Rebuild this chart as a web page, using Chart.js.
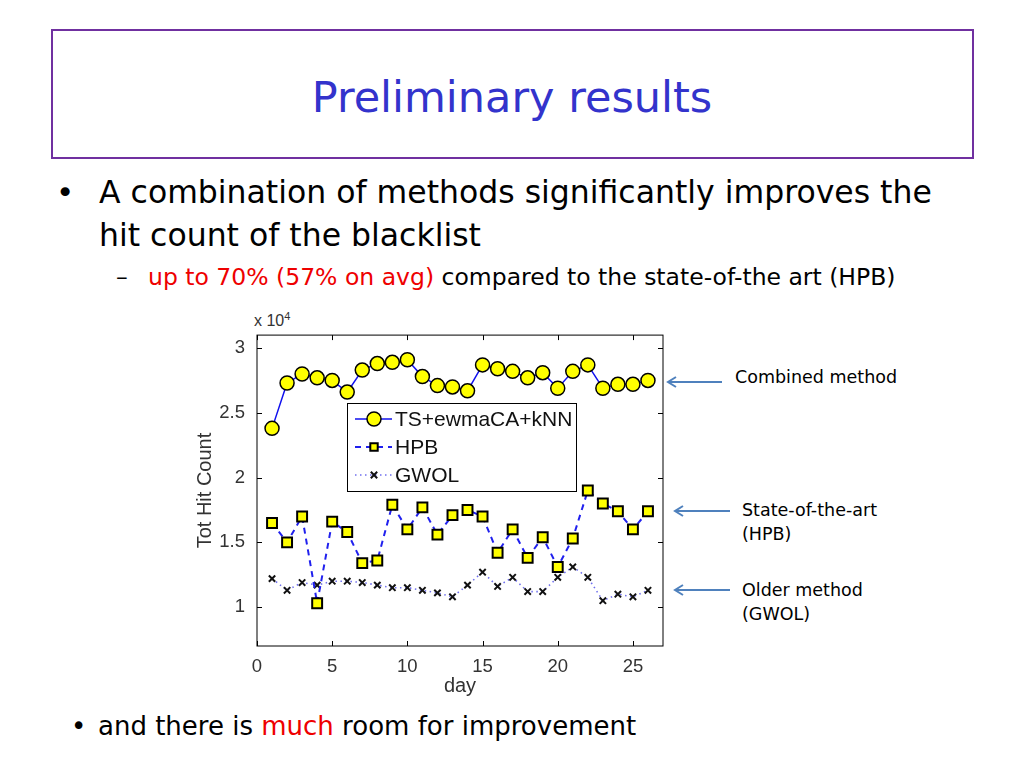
<!DOCTYPE html>
<html>
<head>
<meta charset="utf-8">
<script src="https://cdn.jsdelivr.net/npm/chart.js@4.4.0/dist/chart.umd.min.js"></script>
<style>
    body { margin: 0; background: #fff; }
    #slide { position: relative; width: 1024px; height: 768px; overflow: hidden; font-family: "Comic Sans MS", "DejaVu Sans", sans-serif; }
    .abs { position: absolute; white-space: nowrap; }
    #titleBox { left: 51px; top: 29px; width: 919px; height: 126px; border: 2px solid #7030a0; }
    #title { left: 0; width: 1024px; top: 68px; text-align: center; font-size: 43px; color: #3333cc; line-height: 58px; }
    .red { color: #ee0000; }
    #chartWrap { position: absolute; left: 180px; top: 320px; width: 495px; height: 380px; }
    .note { font-size: 17.5px; color: #000; line-height: 24px; }
</style>
</head>
<body>
<div id="slide">
    <div id="titleBox" class="abs"></div>
    <div id="title" class="abs">Preliminary results</div>

    <div class="abs" style="left:56px; top:171px; font-size:31px; line-height:43px;">•</div>
    <div class="abs" style="left:99px; top:171px; font-size:31.5px; line-height:43px;">A combination of methods significantly improves the<br>hit count of the blacklist</div>
    <div class="abs" style="left:116px; top:261px; font-size:23.5px; line-height:32px;">–</div>
    <div class="abs" style="left:148px; top:261px; font-size:23.5px; line-height:32px;"><span class="red">up to 70% (57% on avg)</span> compared to the state-of-the art (HPB)</div>

    <div class="abs" style="left:71px; top:709px; font-size:26px; line-height:34px;">•</div>
    <div class="abs" style="left:98px; top:709px; font-size:26px; line-height:34px;">and there is <span class="red">much</span> room for improvement</div>

    <div class="abs" style="left:254px; top:310px; font-size:16px; color:#333; font-family:'Liberation Sans', Arial, sans-serif;">x 10<sup style="font-size:11px;">4</sup></div>

    <svg class="abs" style="left:0; top:0;" width="1024" height="768">
        <g stroke="#4f81bd" stroke-width="2" fill="none">
            <line x1="722" y1="382" x2="668" y2="382"/>
            <polyline points="676,377 668,382 676,387"/>
            <line x1="730" y1="511" x2="675" y2="511"/>
            <polyline points="683,506 675,511 683,516"/>
            <line x1="730" y1="590" x2="675" y2="590"/>
            <polyline points="683,585 675,590 683,595"/>
        </g>
    </svg>
    <div class="abs note" style="left:735px; top:365px;">Combined method</div>
    <div class="abs note" style="left:742px; top:498px;">State-of-the-art<br>(HPB)</div>
    <div class="abs note" style="left:742px; top:578px;">Older method<br>(GWOL)</div>

    <div id="chartWrap"><canvas id="hitChart"></canvas></div>
</div>

<script>
    // 데이터
    const days = [1, 2, 3, 4, 5, 6, 7, 8, 9, 10, 11, 12, 13, 14, 15, 16, 17, 18, 19, 20, 21, 22, 23, 24, 25, 26];
    const combined = [2.38, 2.73, 2.80, 2.77, 2.75, 2.66, 2.83, 2.88, 2.89, 2.91, 2.78, 2.71, 2.70, 2.67, 2.87, 2.84, 2.82, 2.77, 2.81, 2.69, 2.82, 2.87, 2.69, 2.72, 2.72, 2.75];
    const hpb = [1.65, 1.50, 1.70, 1.03, 1.66, 1.58, 1.34, 1.36, 1.79, 1.60, 1.77, 1.56, 1.71, 1.75, 1.70, 1.42, 1.60, 1.38, 1.54, 1.31, 1.53, 1.90, 1.80, 1.74, 1.60, 1.74];
    const gwol = [1.22, 1.13, 1.19, 1.17, 1.20, 1.20, 1.19, 1.17, 1.15, 1.15, 1.13, 1.11, 1.08, 1.17, 1.27, 1.16, 1.23, 1.12, 1.12, 1.23, 1.31, 1.23, 1.05, 1.10, 1.08, 1.13];
    const xTicks = [0, 5, 10, 15, 20, 25];
    const yTicks = [1, 1.5, 2, 2.5, 3];
    const seriesNames = ['TS+ewmaCA+kNN', 'HPB', 'GWOL'];

    const toPoints = vals => vals.map((v, i) => ({ x: days[i], y: v }));
    const tickFont = { family: "'Liberation Sans', Arial, sans-serif", size: 18.5 };
    const titleFont = { family: "'Liberation Sans', Arial, sans-serif", size: 20 };

    // MATLAB 스타일 박스 + 안쪽 눈금
    const matlabAxes = {
        id: 'matlabAxes',
        afterDatasetsDraw(chart) {
            const { ctx, chartArea: a, scales } = chart;
            ctx.save();
            ctx.strokeStyle = '#000';
            ctx.lineWidth = 1;
            ctx.strokeRect(a.left, a.top, a.right - a.left, a.bottom - a.top);
            ctx.beginPath();
            xTicks.forEach(t => {
                const px = Math.round(scales.x.getPixelForValue(t)) + 0.5;
                ctx.moveTo(px, a.bottom); ctx.lineTo(px, a.bottom - 5);
                ctx.moveTo(px, a.top); ctx.lineTo(px, a.top + 5);
            });
            yTicks.forEach(t => {
                const py = Math.round(scales.y.getPixelForValue(t)) + 0.5;
                ctx.moveTo(a.left, py); ctx.lineTo(a.left + 5, py);
                ctx.moveTo(a.right, py); ctx.lineTo(a.right - 5, py);
            });
            ctx.stroke();
            ctx.restore();
        }
    };

    function drawMarker(ctx, ds, x, y) {
        ctx.fillStyle = ds.pointBackgroundColor;
        ctx.strokeStyle = ds.pointBorderColor;
        ctx.lineWidth = ds.pointBorderWidth;
        Chart.helpers.drawPoint(ctx, {
            pointStyle: ds.pointStyle,
            radius: ds.pointStyle === 'rect' ? ds.pointRadius * 0.75 : ds.pointRadius,
            borderWidth: ds.pointBorderWidth
        }, x, y);
    }

    // 차트 안쪽 범례
    const innerLegend = {
        id: 'innerLegend',
        afterDraw(chart) {
            const { ctx } = chart;
            const box = { x: 167, y: 83, w: 229, h: 88 };
            ctx.save();
            ctx.fillStyle = '#fff';
            ctx.fillRect(box.x, box.y, box.w, box.h);
            ctx.strokeStyle = '#000';
            ctx.lineWidth = 1;
            ctx.strokeRect(box.x + 0.5, box.y + 0.5, box.w, box.h);
            chart.data.datasets.forEach((ds, i) => {
                const cy = box.y + 16 + i * 28;
                ctx.strokeStyle = ds.borderColor;
                ctx.lineWidth = ds.borderWidth;
                ctx.setLineDash(ds.borderDash || []);
                ctx.beginPath();
                ctx.moveTo(box.x + 8, cy);
                ctx.lineTo(box.x + 45, cy);
                ctx.stroke();
                ctx.setLineDash([]);
                drawMarker(ctx, ds, box.x + 27, cy);
                ctx.fillStyle = '#111';
                ctx.font = "21px 'Liberation Sans', Arial, sans-serif";
                ctx.textBaseline = 'middle';
                ctx.fillText(ds.label, box.x + 48, cy + 1);
            });
            ctx.restore();
        }
    };

    const ctx = document.getElementById('hitChart').getContext('2d');
    const hitChart = new Chart(ctx, {
        type: 'line',
        data: {
            datasets: [{
                label: seriesNames[0],
                data: toPoints(combined),
                borderColor: '#1010ee',
                borderWidth: 1.5,
                pointStyle: 'circle',
                pointRadius: 7,
                pointBackgroundColor: '#ffff00',
                pointBorderColor: '#000',
                pointBorderWidth: 1.5,
                tension: 0
            }, {
                label: seriesNames[1],
                data: toPoints(hpb),
                borderColor: '#2020ee',
                borderWidth: 2,
                borderDash: [6, 5],
                pointStyle: 'rect',
                pointRadius: 7,
                pointBackgroundColor: '#ffff00',
                pointBorderColor: '#000',
                pointBorderWidth: 2,
                tension: 0
            }, {
                label: seriesNames[2],
                data: toPoints(gwol),
                borderColor: '#6f6fee',
                borderWidth: 1.6,
                borderDash: [1.5, 3.5],
                pointStyle: 'crossRot',
                pointRadius: 4.5,
                pointBackgroundColor: '#000',
                pointBorderColor: '#111',
                pointBorderWidth: 2,
                tension: 0
            }]
        },
        options: {
            responsive: true,
            maintainAspectRatio: false,
            animation: false,
            layout: { padding: { top: 14, right: 12, left: 0, bottom: 0 } },
            plugins: {
                legend: { display: false },
                tooltip: { enabled: false }
            },
            scales: {
                x: {
                    type: 'linear',
                    min: 0,
                    max: 27,
                    grid: { display: false },
                    border: { display: false },
                    afterBuildTicks: scale => { scale.ticks = xTicks.map(v => ({ value: v })); },
                    afterFit: scale => { scale.height = 54; },
                    ticks: { color: '#333', font: tickFont, padding: 2, callback: v => String(v) },
                    title: { display: true, text: 'day', color: '#333', font: titleFont, padding: { top: 0, bottom: 2 } }
                },
                y: {
                    min: 0.7,
                    max: 3.1,
                    grid: { display: false },
                    border: { display: false },
                    afterBuildTicks: scale => { scale.ticks = yTicks.map(v => ({ value: v })); },
                    afterFit: scale => { scale.width = 77; },
                    ticks: { color: '#333', font: tickFont, padding: 4, callback: v => String(v) },
                    title: { display: true, text: 'Tot Hit Count', color: '#333', font: titleFont, padding: { top: 13, bottom: 0 } }
                }
            }
        },
        plugins: [matlabAxes, innerLegend]
    });
</script>
</body>
</html>
